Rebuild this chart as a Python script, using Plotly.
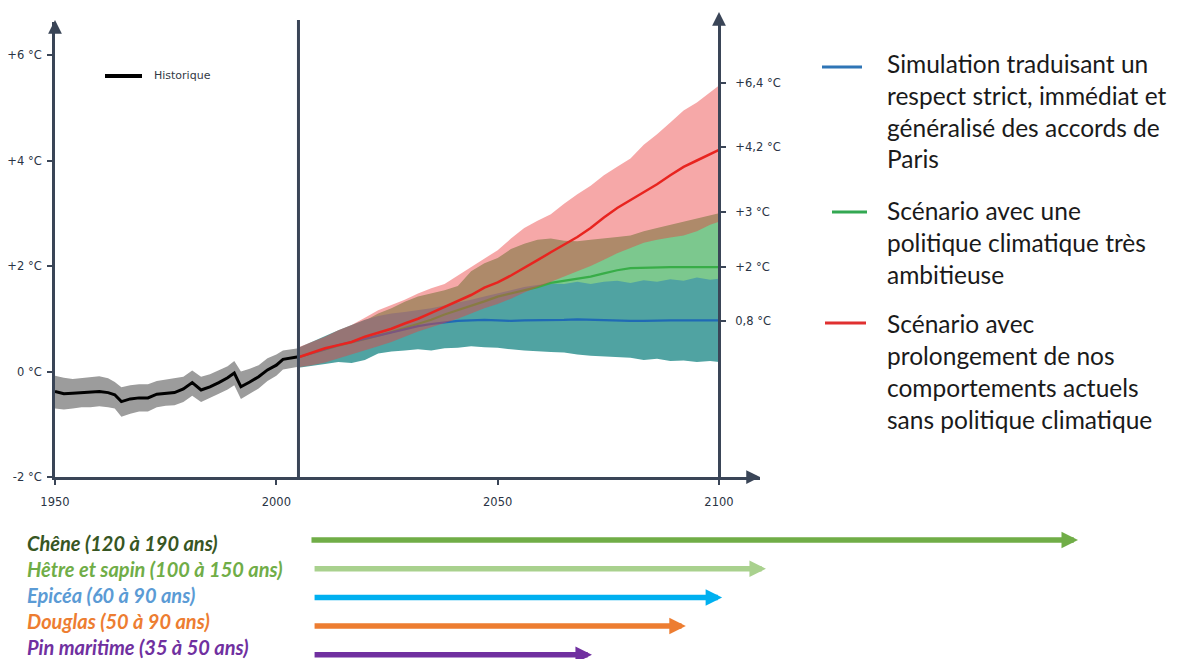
import plotly.graph_objects as go

W, H = 1183, 659

# ---------------- data ----------------
hist_years = [1950, 1952, 1954, 1956, 1958, 1960, 1962, 1963.5, 1965, 1967, 1969, 1971, 1973, 1975, 1977,
              1979, 1981, 1983, 1985, 1987, 1989, 1990.5, 1992, 1994, 1996, 1998, 2000, 2001.5, 2003, 2005]
hist_mean = [-0.38, -0.42, -0.41, -0.40, -0.39, -0.38, -0.40, -0.44, -0.57, -0.52, -0.50, -0.50, -0.43, -0.41, -0.40,
             -0.33, -0.21, -0.35, -0.29, -0.21, -0.12, -0.03, -0.29, -0.20, -0.10, 0.03, 0.12, 0.23, 0.25, 0.28]
hist_upper = [-0.08, -0.12, -0.14, -0.12, -0.10, -0.09, -0.13, -0.20, -0.30, -0.26, -0.24, -0.24, -0.18, -0.15, -0.13,
              -0.10, 0.02, -0.10, -0.05, 0.03, 0.10, 0.20, 0.00, 0.05, 0.12, 0.25, 0.32, 0.40, 0.42, 0.44]
hist_lower = [-0.70, -0.72, -0.70, -0.68, -0.68, -0.66, -0.68, -0.70, -0.86, -0.80, -0.76, -0.76, -0.68, -0.65, -0.64,
              -0.58, -0.46, -0.58, -0.50, -0.42, -0.34, -0.26, -0.52, -0.42, -0.32, -0.18, -0.08, 0.04, 0.06, 0.09]

proj_years = [2005, 2008, 2011, 2014, 2017, 2020, 2023, 2026, 2029, 2032, 2035, 2038, 2041, 2044, 2047, 2050,
              2053, 2056, 2059, 2062, 2065, 2068, 2071, 2074, 2077, 2080, 2083, 2086, 2089, 2092, 2095, 2098, 2100]

blue_mean = [0.27, 0.35, 0.42, 0.50, 0.56, 0.62, 0.67, 0.74, 0.80, 0.86, 0.90, 0.93, 0.96, 0.97, 0.98, 0.97,
             0.96, 0.97, 0.97, 0.98, 0.98, 0.99, 0.98, 0.98, 0.97, 0.96, 0.96, 0.97, 0.97, 0.97, 0.97, 0.97, 0.97]
blue_upper = [0.45, 0.56, 0.68, 0.78, 0.88, 0.98, 1.05, 1.10, 1.13, 1.16, 1.20, 1.25, 1.30, 1.36, 1.42, 1.48,
              1.54, 1.60, 1.64, 1.67, 1.66, 1.70, 1.66, 1.70, 1.72, 1.68, 1.73, 1.70, 1.75, 1.72, 1.78, 1.74, 1.76]
blue_lower = [0.07, 0.10, 0.14, 0.18, 0.16, 0.22, 0.34, 0.38, 0.40, 0.42, 0.40, 0.44, 0.45, 0.48, 0.46, 0.45,
              0.42, 0.40, 0.38, 0.37, 0.36, 0.32, 0.30, 0.28, 0.27, 0.26, 0.22, 0.24, 0.20, 0.21, 0.18, 0.20, 0.18]

green_mean = [0.27, 0.35, 0.42, 0.49, 0.55, 0.62, 0.68, 0.75, 0.83, 0.90, 0.98, 1.08, 1.16, 1.24, 1.33, 1.42,
              1.48, 1.53, 1.60, 1.68, 1.72, 1.76, 1.80, 1.86, 1.92, 1.96, 1.97, 1.97, 1.98, 1.98, 1.98, 1.98, 1.98]
green_upper = [0.42, 0.52, 0.62, 0.74, 0.84, 0.96, 1.10, 1.20, 1.32, 1.42, 1.48, 1.54, 1.62, 1.90, 2.05, 2.15,
               2.32, 2.42, 2.50, 2.52, 2.48, 2.47, 2.50, 2.52, 2.55, 2.58, 2.66, 2.72, 2.78, 2.84, 2.90, 2.96, 3.00]
green_lower = [0.15, 0.21, 0.26, 0.31, 0.37, 0.42, 0.47, 0.52, 0.58, 0.63, 0.66, 0.72, 0.76, 0.80, 0.84, 0.88,
               0.92, 0.95, 0.97, 0.99, 1.00, 1.01, 1.00, 1.02, 1.03, 1.02, 1.04, 1.03, 1.05, 1.04, 1.06, 1.05, 1.06]

red_mean = [0.27, 0.36, 0.44, 0.50, 0.56, 0.66, 0.73, 0.81, 0.91, 1.00, 1.11, 1.22, 1.33, 1.45, 1.59, 1.69,
            1.82, 1.96, 2.11, 2.26, 2.40, 2.55, 2.72, 2.92, 3.10, 3.25, 3.40, 3.55, 3.72, 3.88, 4.00, 4.12, 4.20]
red_upper = [0.46, 0.56, 0.66, 0.78, 0.88, 1.02, 1.16, 1.26, 1.36, 1.48, 1.58, 1.66, 1.82, 1.98, 2.15, 2.30,
             2.52, 2.72, 2.86, 2.98, 3.18, 3.36, 3.52, 3.72, 3.88, 4.04, 4.30, 4.50, 4.72, 4.95, 5.10, 5.30, 5.42]
red_lower = [0.08, 0.12, 0.17, 0.24, 0.32, 0.40, 0.48, 0.56, 0.66, 0.76, 0.84, 0.92, 1.00, 1.10, 1.20, 1.28,
             1.38, 1.50, 1.60, 1.70, 1.80, 1.90, 2.00, 2.12, 2.24, 2.34, 2.44, 2.50, 2.54, 2.58, 2.66, 2.78, 2.84]

left_ticks = [-2, 0, 2, 4, 6]
left_labels = ["-2 °C", "0 °C", "+2 °C", "+4 °C", "+6 °C"]
right_tick_pos = [5.47, 4.26, 3.02, 1.98, 0.96]
right_labels = ["+6,4 °C", "+4,2 °C", "+3 °C", "+2 °C", "0,8 °C"]
x_ticks = [1950, 2000, 2050, 2100]
present_year = 2005
end_year = 2100

legend_blocks = [
    ["Simulation traduisant un", "respect strict, immédiat et", "généralisé des accords de", "Paris"],
    ["Scénario avec une", "politique climatique très", "ambitieuse"],
    ["Scénario avec", "prolongement de nos", "comportements actuels", "sans politique climatique"],
]

species = ["Chêne (120 à 190 ans)", "Hêtre et sapin (100 à 150 ans)", "Epicéa (60 à 90 ans)",
           "Douglas (50 à 90 ans)", "Pin maritime (35 à 50 ans)"]
species_text_colors = ["#375623", "#70ad47", "#5b9bd5", "#ed7d31", "#7030a0"]
arrow_colors = ["#70ad47", "#a9d18e", "#00b0f0", "#ed7d31", "#7030a0"]
arrow_start = [2007.6, 2008.3, 2008.3, 2008.3, 2008.3]
arrow_end = [2181.1, 2110.6, 2100.7, 2092.5, 2071.3]
arrow_lane = [0, 1, 2, 3, 4]

# ---------------- layout geometry (pixels) ----------------
AX = "#3a4557"
PX0, PPY = 55.0, (719 - 55) / 150.0          # 1950 at x=55, px per year
Y_BOTTOM_PX, Y_TOP_PX, PPD = 477.0, 22.0, 52.75  # -2 at y=477, px per degree
X_END_PX = 760.0


def pxx(px):
    return px / W


def pxy(py):
    return 1 - py / H


x_range = [1950, 1950 + (X_END_PX - PX0) / PPY]
y_range = [-2, -2 + (Y_BOTTOM_PX - Y_TOP_PX) / PPD]

fig = go.Figure()


def band(xs, up, lo, color, yaxis="y"):
    return go.Scatter(x=list(xs) + list(xs)[::-1], y=list(up) + list(lo)[::-1], fill="toself",
                      fillcolor=color, line=dict(width=0), mode="lines", hoverinfo="skip",
                      showlegend=False, yaxis=yaxis)


fig.add_trace(band(hist_years, hist_upper, hist_lower, "#9c9c9c"))
fig.add_trace(band(proj_years, green_upper, green_lower, "#7cc88e"))
fig.add_trace(band(proj_years, blue_upper, blue_lower, "#50a3a2"))
fig.add_trace(go.Scatter(x=proj_years, y=green_mean, mode="lines", line=dict(color="#38ad48", width=2.2),
                         showlegend=False))
fig.add_trace(go.Scatter(x=proj_years, y=blue_mean, mode="lines", line=dict(color="#1f6ab5", width=2.2),
                         showlegend=False))
fig.add_trace(go.Scatter(x=hist_years, y=hist_mean, mode="lines", line=dict(color="#000000", width=3),
                         showlegend=False))
# red scenario drawn on overlaying axis (same scale) so it sits on top
fig.add_trace(band(proj_years, red_upper, red_lower, "rgba(235,62,62,0.45)", yaxis="y2"))
fig.add_trace(go.Scatter(x=proj_years, y=red_mean, mode="lines", line=dict(color="#e8241f", width=2.5),
                         showlegend=False, yaxis="y2"))

# bottom arrows axis
fig.add_trace(go.Scatter(x=arrow_start, y=arrow_lane, mode="markers", marker=dict(opacity=0),
                         hoverinfo="skip", showlegend=False, xaxis="x3", yaxis="y3"))

lane_px0, lane_step = 540.0, 28.7
y3_range = [(H - lane_px0) / lane_step, (520 - lane_px0) / lane_step]

tickfont = dict(family="DejaVu Sans", size=11.5, color="#2a3444")

fig.update_layout(
    width=W, height=H, margin=dict(l=0, r=0, t=0, b=0, autoexpand=False),
    paper_bgcolor="white", plot_bgcolor="rgba(0,0,0,0)",
    xaxis=dict(domain=[pxx(PX0), pxx(X_END_PX)], range=x_range, anchor="y", automargin=False,
               tickvals=x_ticks, ticktext=[str(v) for v in x_ticks], ticks="outside", ticklen=5,
               tickwidth=2, tickcolor=AX, showline=True, linewidth=3, linecolor=AX,
               showgrid=False, zeroline=False, tickfont=tickfont, ticklabelstandoff=7),
    yaxis=dict(domain=[pxy(Y_BOTTOM_PX), pxy(Y_TOP_PX)], range=y_range, anchor="x", automargin=False,
               tickvals=left_ticks, ticktext=left_labels, ticks="outside", ticklen=5, tickwidth=2,
               tickcolor=AX, showline=True, linewidth=3, linecolor=AX, showgrid=False,
               zeroline=False, tickfont=tickfont, ticklabelstandoff=3),
    yaxis2=dict(overlaying="y", side="right", anchor="free", position=pxx(PX0 + (end_year - 1950) * PPY),
                range=y_range, tickvals=right_tick_pos, ticktext=right_labels, ticks="outside",
                automargin=False,
                ticklen=5, tickwidth=2, tickcolor=AX, showline=True, linewidth=3, linecolor=AX,
                showgrid=False, zeroline=False, tickfont=tickfont, ticklabelstandoff=7),
    xaxis3=dict(domain=[0, 1], range=[1950 - PX0 / PPY, 1950 + (W - PX0) / PPY], anchor="y3",
                visible=False, fixedrange=True, automargin=False),
    yaxis3=dict(domain=[0, pxy(520)], range=y3_range, anchor="x3", visible=False, fixedrange=True,
                automargin=False),
)

# vertical "today" line and right axis extension
fig.add_shape(type="line", xref="x", yref="paper", x0=present_year, x1=present_year,
              y0=pxy(Y_BOTTOM_PX), y1=pxy(20), line=dict(color=AX, width=3))
fig.add_shape(type="line", xref="x", yref="paper", x0=end_year, x1=end_year,
              y0=pxy(Y_TOP_PX), y1=pxy(16), line=dict(color=AX, width=3))

# axis arrowheads
fig.add_annotation(x=1950, xref="x", y=pxy(Y_TOP_PX - 2), yref="paper", ax=0, ay=12, text="",
                   showarrow=True, arrowhead=2, arrowsize=1.1, arrowwidth=2.5, arrowcolor=AX)
fig.add_annotation(x=end_year, xref="x", y=pxy(12), yref="paper", ax=0, ay=12, text="",
                   showarrow=True, arrowhead=2, arrowsize=1.1, arrowwidth=2.5, arrowcolor=AX)
fig.add_annotation(x=x_range[1], xref="x", y=-2, yref="y", ax=-12, ay=0, text="",
                   showarrow=True, arrowhead=2, arrowsize=1.1, arrowwidth=2.5, arrowcolor=AX)

# Historique legend
fig.add_shape(type="line", xref="paper", yref="paper", x0=pxx(105), x1=pxx(142), y0=pxy(76), y1=pxy(76),
              line=dict(color="black", width=4))
fig.add_annotation(x=pxx(152), y=pxy(76), xref="paper", yref="paper", text="Historique", showarrow=False,
                   xanchor="left", yanchor="middle", font=dict(family="DejaVu Sans", size=11, color="#333a45"))

# right legend
leg_colors = ["#2e75b6", "#33a852", "#e03030"]
leg_line_x = [(822, 862), (832, 867), (825, 866)]
leg_line_y = [67, 212, 323]
leg_text_y0 = [63, 210, 323]
for i, block in enumerate(legend_blocks):
    fig.add_shape(type="line", xref="paper", yref="paper", x0=pxx(leg_line_x[i][0]), x1=pxx(leg_line_x[i][1]),
                  y0=pxy(leg_line_y[i]), y1=pxy(leg_line_y[i]), line=dict(color=leg_colors[i], width=3))
    for j, line in enumerate(block):
        fig.add_annotation(x=pxx(885), y=pxy(leg_text_y0[i] + 32 * j), xref="paper", yref="paper", text=line,
                           showarrow=False, xanchor="left", yanchor="middle",
                           font=dict(family="Lato", size=24.5, color="#1a1a1a"))

# species labels and arrows
for i, name in enumerate(species):
    fig.add_annotation(x=pxx(25), y=pxy(543 + 26 * i), xref="paper", yref="paper",
                       text="<b><i>" + name + "</i></b>", showarrow=False, xanchor="left", yanchor="middle",
                       font=dict(family="Lato", size=20, color=species_text_colors[i]))
    fig.add_annotation(x=arrow_end[i], y=arrow_lane[i], xref="x3", yref="y3",
                       ax=arrow_start[i], ay=arrow_lane[i], axref="x3", ayref="y3", text="",
                       showarrow=True, arrowhead=2, arrowsize=0.6, arrowwidth=5.5, arrowcolor=arrow_colors[i])

fig.write_html("out.html", config={"displayModeBar": False},
               post_script="document.body.style.margin='0';")
